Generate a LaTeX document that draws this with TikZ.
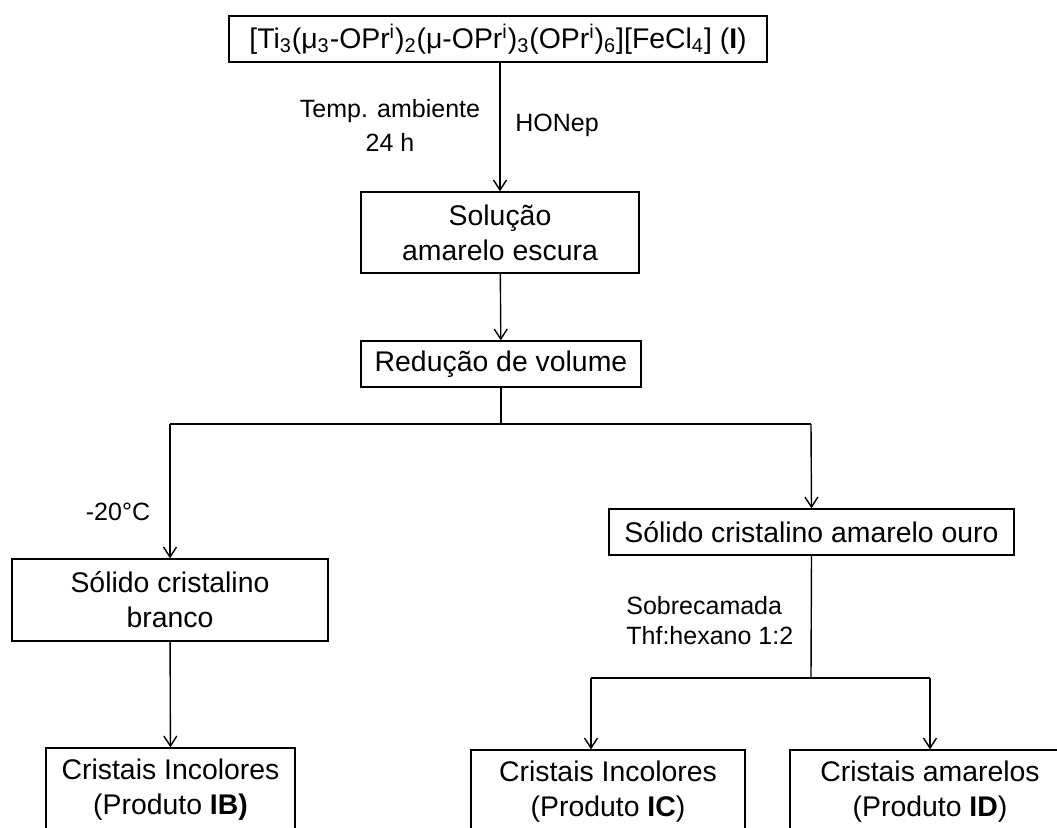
\documentclass[tikz,border=0pt]{standalone}
\usepackage{fontspec}
\setmainfont{Liberation Sans}
\usetikzlibrary{arrows.meta,positioning}
\tikzset{
  flow/.style={-{Straight Barb[length=5pt,width=6.5pt]}, line width=0.7pt},
  link/.style={line width=0.7pt},
  stagebox/.style={rectangle, draw, line width=0.7pt, align=center, inner sep=0pt,
    font=\fontsize{14.2}{17.5}\selectfont},
  cond/.style={font=\fontsize{12.5}{15}\selectfont, align=center, inner sep=1pt}
}

\begin{document}
\begin{tikzpicture}[x=0.5pt, y=-0.5pt]
\useasboundingbox (0,0) rectangle (1057,827);
% main route
\node[stagebox, minimum width=269pt, minimum height=23pt] (tri) at (498,39)
  {[Ti\textsubscript{3}(μ\textsubscript{3}-OPr\textsuperscript{i})\textsubscript{2}(μ-OPr\textsuperscript{i})\textsubscript{3}(OPr\textsuperscript{i})\textsubscript{6}][FeCl\textsubscript{4}] (\textbf{I})};
\node[stagebox, minimum width=139pt, minimum height=40.5pt] (sol) at (500,232.5) {Solução\\amarelo escura};
\node[stagebox, minimum width=140pt, minimum height=23pt] (red) at (501,364) {Redução de volume};
% the two branches
\node[stagebox, minimum width=158pt, minimum height=41pt] (bra) at (170,600) {Sólido cristalino\\branco};
\node[stagebox, minimum width=202.5pt, minimum height=23pt] (our) at (811.5,532) {Sólido cristalino amarelo ouro};
% products
\node[stagebox, minimum width=124.5pt, minimum height=42pt] (pib) at (170.5,790) {Cristais Incolores\\(Produto \textbf{IB)}};
\node[stagebox, minimum width=137pt, minimum height=42pt] (pic) at (608,792) {Cristais Incolores\\(Produto \textbf{IC})};
\node[stagebox, minimum width=140pt, minimum height=42pt] (pid) at (930,792) {Cristais amarelos\\(Produto \textbf{ID})};

% conditions
\node[cond] (temp) at (390,125) {Temp. ambiente\\[2pt]24 h};
\node[cond] (honep) at (557,125) {HONep};
\node[cond] (cold) at (118,512) {-20°C};
\node[cond, align=left, anchor=west] (layer) at (624,621) {Sobrecamada\\Thf:hexano 1:2};

\coordinate (forkL) at (170,424);
\coordinate (forkR) at (811,424);
\coordinate (split) at (811,678);
\coordinate (splitL) at (591,678);
\coordinate (splitR) at (930,678);

\draw[flow] (tri.south -| sol.north) -- (sol.north);
\draw[flow] (sol) -- (red);
\draw[link] (red.south) -- (red.south |- forkL);
\draw[link] (forkL) -- (forkR);
\draw[flow] (forkL) -- (bra.north);
\draw[flow] (forkR) -- (our.north);
\draw[flow] (bra) -- (pib);
\draw[link] (our.south) -- (split);
\draw[link] (splitL) -- (splitR);
\draw[flow] (splitL) -- (splitL |- pic.north);
\draw[flow] (splitR) -- (pid.north);
\end{tikzpicture}
\end{document}
